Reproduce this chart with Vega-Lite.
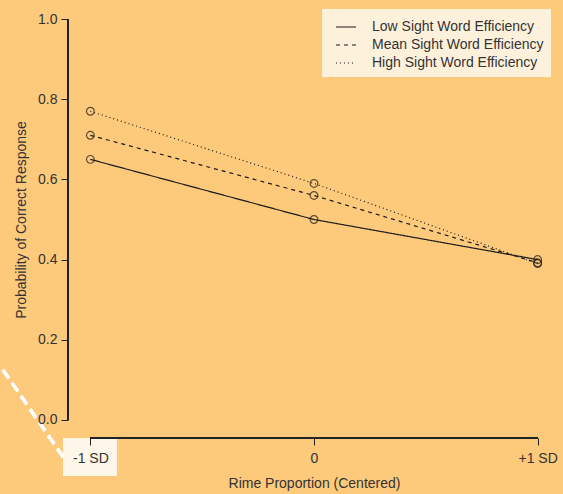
{
  "$schema": "https://vega.github.io/schema/vega-lite/v6.json",
  "width": 492,
  "height": 437,
  "autosize": {"type": "none"},
  "padding": {"left": 68, "top": 1, "right": 3, "bottom": 56},
  "background": "#FDC97B",
  "config": {
    "view": {"stroke": null},
    "font": "Liberation Sans",
    "axis": {
      "domain": false,
      "grid": false,
      "tickSize": 7,
      "tickColor": "#222222",
      "labelColor": "#333333",
      "titleColor": "#333333",
      "labelFont": "Liberation Sans",
      "titleFont": "Liberation Sans",
      "labelFontSize": 14,
      "titleFontSize": 14,
      "titleFontWeight": "normal",
      "zindex": 1
    },
    "legend": {"labelFont": "Liberation Sans"}
  },
  "data": {
    "values": [
      {"sd": -1, "group": "Low Sight Word Efficiency", "p": 0.65},
      {"sd": 0, "group": "Low Sight Word Efficiency", "p": 0.50},
      {"sd": 1, "group": "Low Sight Word Efficiency", "p": 0.40},
      {"sd": -1, "group": "Mean Sight Word Efficiency", "p": 0.71},
      {"sd": 0, "group": "Mean Sight Word Efficiency", "p": 0.56},
      {"sd": 1, "group": "Mean Sight Word Efficiency", "p": 0.392},
      {"sd": -1, "group": "High Sight Word Efficiency", "p": 0.77},
      {"sd": 0, "group": "High Sight Word Efficiency", "p": 0.59},
      {"sd": 1, "group": "High Sight Word Efficiency", "p": 0.39}
    ]
  },
  "layer": [
    {
      "mark": {"type": "rect", "color": "#FEF6E8", "clip": false},
      "encoding": {
        "x": {"datum": -1.122, "type": "quantitative", "scale": {"domain": [-1.1, 1.1], "nice": false, "zero": false}},
        "x2": {"datum": -0.881},
        "y": {"datum": -0.047, "type": "quantitative", "scale": {"domain": [-0.045, 1.045], "nice": false, "zero": false}},
        "y2": {"datum": -0.139}
      }
    },
    {
      "mark": {"type": "rule", "color": "#FFFFFF", "strokeWidth": 3, "strokeDash": [10, 6], "clip": false},
      "encoding": {
        "x": {"datum": -1.391, "type": "quantitative", "scale": {"domain": [-1.1, 1.1], "nice": false, "zero": false}},
        "x2": {"datum": -1.122},
        "y": {"datum": 0.125, "type": "quantitative", "scale": {"domain": [-0.045, 1.045], "nice": false, "zero": false}},
        "y2": {"datum": -0.092}
      }
    },
    {
      "mark": {"type": "rule", "color": "#222222", "strokeWidth": 1.2, "clip": false},
      "encoding": {
        "x": {"datum": -1.1, "type": "quantitative", "scale": {"domain": [-1.1, 1.1], "nice": false, "zero": false}},
        "y": {"datum": 0, "type": "quantitative", "scale": {"domain": [-0.045, 1.045], "nice": false, "zero": false}},
        "y2": {"datum": 1}
      }
    },
    {
      "mark": {"type": "rule", "color": "#222222", "strokeWidth": 1.2, "clip": false},
      "encoding": {
        "y": {"datum": -0.045, "type": "quantitative", "scale": {"domain": [-0.045, 1.045], "nice": false, "zero": false}},
        "x": {"datum": -1, "type": "quantitative", "scale": {"domain": [-1.1, 1.1], "nice": false, "zero": false}},
        "x2": {"datum": 1}
      }
    },
    {
      "mark": {"type": "line", "color": "#1a1a1a", "strokeWidth": 1.2},
      "encoding": {
        "x": {
          "field": "sd",
          "type": "quantitative",
          "scale": {"domain": [-1.1, 1.1], "nice": false, "zero": false},
          "axis": {
            "values": [-1, 0, 1],
            "labelExpr": "datum.value < 0 ? '-1 SD' : (datum.value > 0 ? '+1 SD' : '0')",
            "labelPadding": 6,
            "title": "Rime Proportion (Centered)",
            "titlePadding": 11,
            "zindex": 2
          }
        },
        "y": {
          "field": "p",
          "type": "quantitative",
          "scale": {"domain": [-0.045, 1.045], "nice": false, "zero": false},
          "axis": {
            "values": [0, 0.2, 0.4, 0.6, 0.8, 1],
            "format": ".1f",
            "labelPadding": 4,
            "title": "Probability of Correct Response",
            "titlePadding": 9,
            "zindex": 2
          }
        },
        "strokeDash": {
          "field": "group",
          "type": "nominal",
          "scale": {
            "domain": ["Low Sight Word Efficiency", "Mean Sight Word Efficiency", "High Sight Word Efficiency"],
            "range": [[1, 0], [4, 4], [1, 3]]
          },
          "legend": {
            "orient": "none",
            "legendX": 254,
            "legendY": 8,
            "title": null,
            "symbolType": "stroke",
            "symbolSize": 400,
            "symbolOffset": 6,
            "symbolStrokeWidth": 1.2,
            "symbolStrokeColor": "#1a1a1a",
            "labelFont": "Liberation Sans",
            "labelFontSize": 14,
            "labelColor": "#333333",
            "labelOffset": 15,
            "labelLimit": 400,
            "padding": 7,
            "rowPadding": 0,
            "fillColor": "#FEF1DC",
            "strokeColor": null
          }
        },
        "detail": {"field": "group"}
      }
    },
    {
      "mark": {"type": "point", "shape": "circle", "filled": false, "color": "#1a1a1a", "size": 60, "strokeWidth": 1.2},
      "encoding": {
        "x": {"field": "sd", "type": "quantitative", "scale": {"domain": [-1.1, 1.1], "nice": false, "zero": false}},
        "y": {"field": "p", "type": "quantitative", "scale": {"domain": [-0.045, 1.045], "nice": false, "zero": false}}
      }
    }
  ]
}
